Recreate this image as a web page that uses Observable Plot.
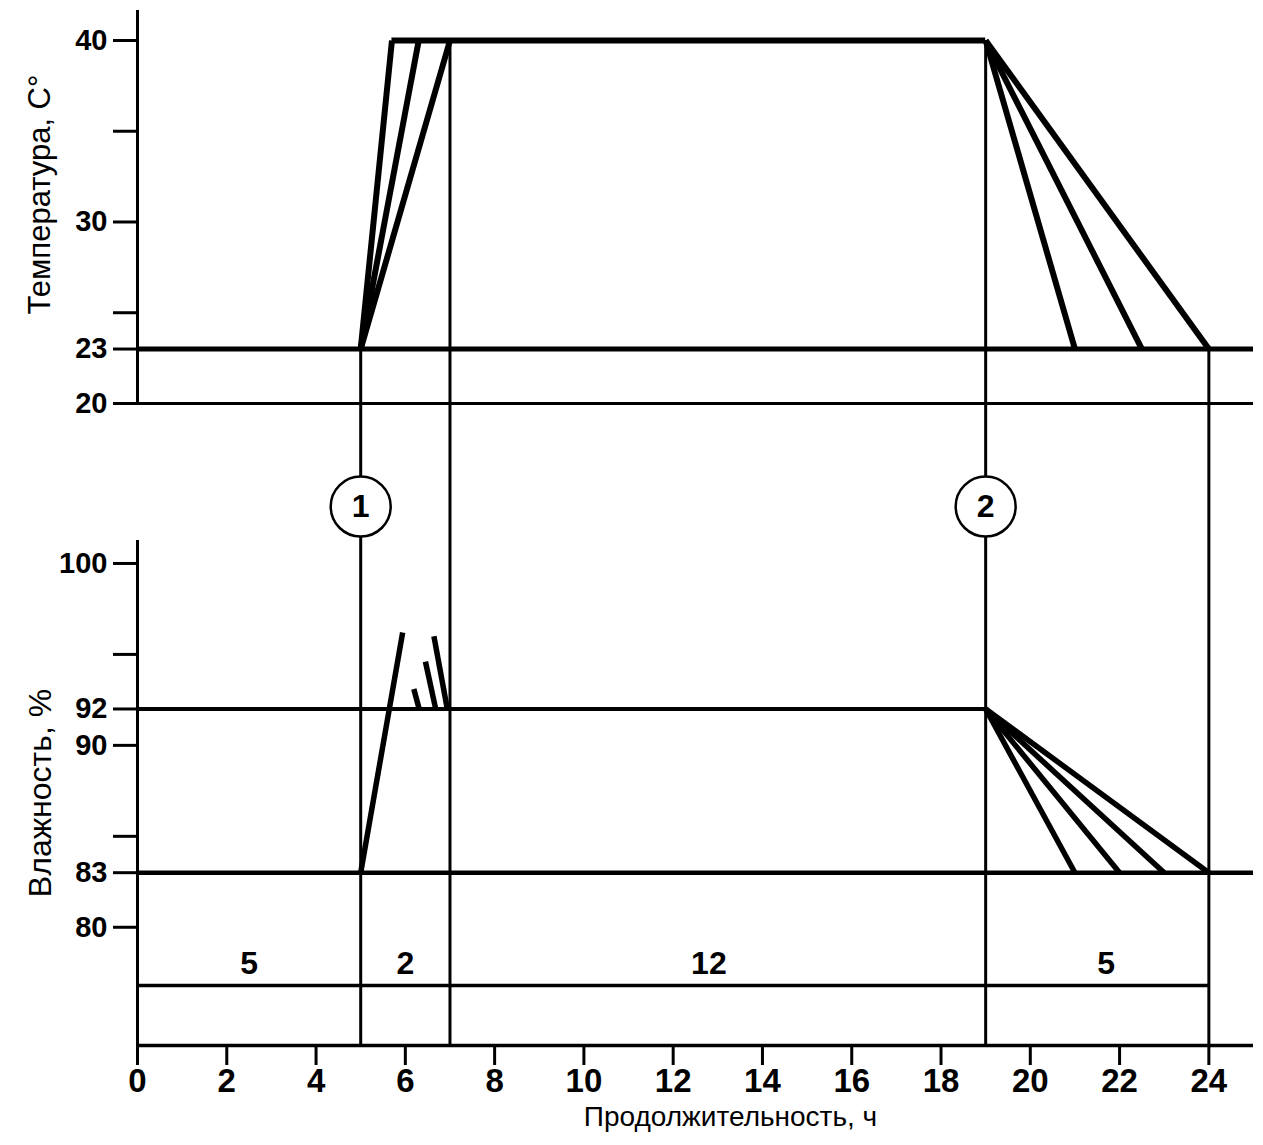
<!DOCTYPE html>
<html>
<head>
<meta charset="utf-8">
<script src="https://cdn.jsdelivr.net/npm/d3@7"></script>
<script src="https://cdn.jsdelivr.net/npm/@observablehq/plot@0.6"></script>
<style>
  html, body { margin: 0; padding: 0; background: #fff; }
  #chart svg { display: block; }
</style>
</head>
<body>
<div id="chart"></div>
<script>
// ---------------- data ----------------
const hourTicks = [0, 2, 4, 6, 8, 10, 12, 14, 16, 18, 20, 22, 24];
const stageBounds = [5, 7, 19, 24];
const stageDurations = [5, 2, 12, 5];
const stageLabelHours = [2.5, 6, 12.8, 21.7];
const markerHours = [5, 19];
const markerLabels = ["1", "2"];

// temperature, °C
const tempTicks = [20, 23, 25, 30, 35, 40];
const tempTickLabels = [20, 23, 30, 40];
const tempBase = 20;
const tempLow = 23;
const tempHigh = 40;
const tempRiseStart = 5;
const tempRiseEnds = [5.7, 6.3, 7];
const tempFallStart = 19;
const tempFallEnds = [21, 22.5, 24];
const tempBoundTops = [23, 40, 40, 23];

// humidity, %
const humTicks = [80, 83, 85, 90, 92, 95, 100];
const humTickLabels = [80, 83, 90, 92, 100];
const humLow = 83;
const humHigh = 92;
const humStrokeX1 = [5, 6.19, 6.45, 6.64];
const humStrokeY1 = [83, 93.1, 94.6, 96.0];
const humStrokeX2 = [5.94, 6.31, 6.68, 6.94];
const humStrokeY2 = [96.2, 92, 92, 92];
const humFallStart = 19;
const humFallEnds = [21, 22, 23, 24];
const durationLevel = 76.8;

// ---------------- layout ----------------
const W = 1263, ML = 137, MR = 10;
const X_DOMAIN = [0, 25];
const FONT = "'Liberation Sans', Arial, Helvetica, sans-serif";
const TOP_H = 440, TOP_MT = 40;
const TEMP_FLOOR = 17.96, TEMP_AXIS_TOP = 41.65;
const BOT_H = 705, BOT_MB = 100;
const HUM_FLOOR = 73.5, HUM_CEIL = 106.76, HUM_AXIS_TOP = 101.26, MARKER_LEVEL = 103.13;

const tempRiseLinks = tempRiseEnds.map(h => ({x1: tempRiseStart, y1: tempLow, x2: h, y2: tempHigh}));
const tempFallLinks = tempFallEnds.map(h => ({x1: tempFallStart, y1: tempHigh, x2: h, y2: tempLow}));
const humStrokes = humStrokeX1.map((x, i) => ({x1: x, y1: humStrokeY1[i], x2: humStrokeX2[i], y2: humStrokeY2[i]}));
const humFallLinks = humFallEnds.map(h => ({x1: humFallStart, y1: humHigh, x2: h, y2: humLow}));

const topPlot = Plot.plot({
  width: W, height: TOP_H,
  marginLeft: ML, marginRight: MR, marginTop: TOP_MT, marginBottom: 0,
  x: {domain: X_DOMAIN, axis: null},
  y: {domain: [TEMP_FLOOR, tempHigh], axis: null},
  style: {fontFamily: FONT, fontSize: "29px", background: "white", color: "black", overflow: "visible"},
  marks: [
    Plot.ruleX([0], {y1: tempBase, y2: TEMP_AXIS_TOP, strokeWidth: 3}),
    Plot.axisY({ticks: tempTicks, tickFormat: d => tempTickLabels.includes(d) ? String(d) : "",
      tickSize: 24, tickPadding: 6, fontSize: 29, fontWeight: "bold", strokeWidth: 3, label: null}),
    Plot.ruleY([tempBase], {x1: 0, x2: 25, strokeWidth: 3}),
    Plot.ruleX(stageBounds, {y1: tempBoundTops, y2: TEMP_FLOOR, strokeWidth: 3}),
    Plot.ruleY([tempLow], {x1: 0, x2: 25, strokeWidth: 5}),
    Plot.ruleY([tempHigh], {x1: tempRiseEnds[0], x2: tempFallStart, strokeWidth: 6}),
    Plot.link(tempRiseLinks, {x1: "x1", y1: "y1", x2: "x2", y2: "y2", strokeWidth: 6}),
    Plot.link(tempFallLinks, {x1: "x1", y1: "y1", x2: "x2", y2: "y2", strokeWidth: 6}),
    Plot.text(["Температура, С°"], {frameAnchor: "left", rotate: -90, dx: -97, dy: -46,
      fontSize: 31, textAnchor: "middle", lineAnchor: "middle"})
  ]
});

const botPlot = Plot.plot({
  width: W, height: BOT_H,
  marginLeft: ML, marginRight: MR, marginTop: 0, marginBottom: BOT_MB,
  x: {domain: X_DOMAIN, axis: null},
  y: {domain: [HUM_FLOOR, HUM_CEIL], axis: null},
  style: {fontFamily: FONT, fontSize: "29px", background: "white", color: "black", overflow: "visible"},
  marks: [
    Plot.ruleX([0], {y1: HUM_FLOOR, y2: HUM_AXIS_TOP, strokeWidth: 3}),
    Plot.axisY({ticks: humTicks, tickFormat: d => humTickLabels.includes(d) ? String(d) : "",
      tickSize: 24, tickPadding: 6, fontSize: 29, fontWeight: "bold", strokeWidth: 3, label: null}),
    Plot.ruleX(stageBounds, {y1: HUM_CEIL, y2: HUM_FLOOR, strokeWidth: 3}),
    Plot.ruleY([durationLevel], {x1: 0, x2: stageBounds[3], strokeWidth: 3.5}),
    Plot.ruleY([HUM_FLOOR], {x1: 0, x2: 25, strokeWidth: 3.5}),
    Plot.axisX({ticks: hourTicks, tickSize: 20, tickPadding: 3, fontSize: 33, fontWeight: "bold", strokeWidth: 3, label: null}),
    Plot.ruleY([humLow], {x1: 0, x2: 25, strokeWidth: 4.5}),
    Plot.ruleY([humHigh], {x1: 0, x2: humFallStart, strokeWidth: 4}),
    Plot.link(humStrokes, {x1: "x1", y1: "y1", x2: "x2", y2: "y2", strokeWidth: 5.5}),
    Plot.link(humFallLinks, {x1: "x1", y1: "y1", x2: "x2", y2: "y2", strokeWidth: 5.5}),
    Plot.text(stageDurations, {x: (d, i) => stageLabelHours[i], y: durationLevel, dy: -22,
      text: d => String(d), fontSize: 32, fontWeight: "bold", lineAnchor: "middle"}),
    Plot.dot(markerHours, {x: d => d, y: MARKER_LEVEL, r: 30, fill: "white", stroke: "black", strokeWidth: 2.5}),
    Plot.text(markerHours, {x: d => d, y: MARKER_LEVEL, text: (d, i) => markerLabels[i], fontSize: 32,
      fontWeight: "bold", lineAnchor: "middle"}),
    Plot.text(["Влажность, %"], {frameAnchor: "left", rotate: -90, dx: -97, dy: 50,
      fontSize: 32, textAnchor: "middle", lineAnchor: "middle"}),
    Plot.text(["Продолжительность, ч"], {frameAnchor: "bottom", dx: 35, dy: 72,
      fontSize: 28, textAnchor: "middle", lineAnchor: "middle"})
  ]
});

const chart = document.getElementById("chart");
chart.appendChild(topPlot);
chart.appendChild(botPlot);
</script>
</body>
</html>
